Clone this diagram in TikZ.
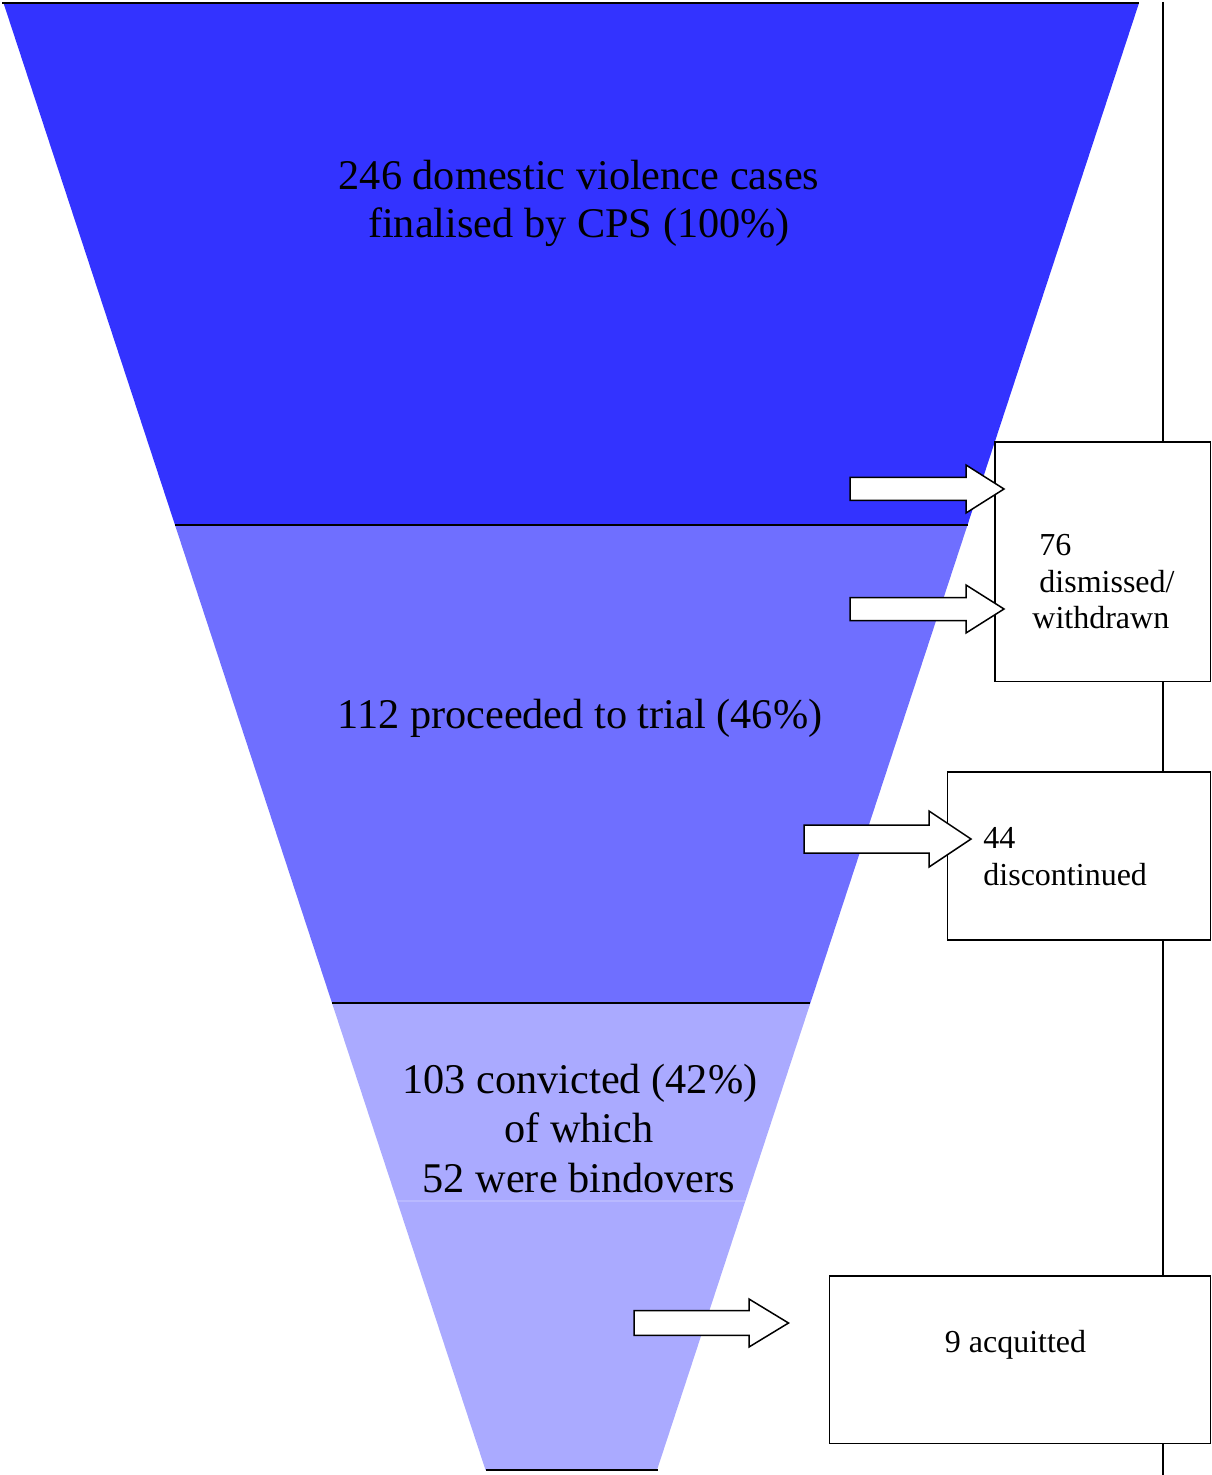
\documentclass[tikz,border=0pt]{standalone}
\usepackage{fontspec}
\setmainfont{Liberation Serif}
\definecolor{bandA}{HTML}{3333FF}
\definecolor{bandB}{HTML}{6F6FFF}
\definecolor{bandC}{HTML}{AAAAFF}
\definecolor{bandCline}{HTML}{B9B9FF}
\tikzset{
  bigtxt/.style={font=\fontsize{21.15}{24}\selectfont, inner sep=0pt, anchor=base},
  smalltxt/.style={font=\fontsize{16}{18.5}\selectfont, inner sep=0pt, anchor=base west},
  outbox/.style={draw=black, line width=0.8pt, fill=white, inner sep=0pt, anchor=north west},
  blockarrowstyle/.style={draw=black, line width=0.75pt, fill=white, line join=miter},
  divider/.style={draw=black, line width=1pt},
  sideline/.style={draw=black, line width=1pt}
}
% tail x, tip x, centre y, shaft half height, head half height, head length
\newcommand\blkarrow[6]{%
  \draw[blockarrowstyle] (#1,#3-#4) -- (#2-#6,#3-#4) -- (#2-#6,#3-#5) -- (#2,#3)
    -- (#2-#6,#3+#5) -- (#2-#6,#3+#4) -- (#1,#3+#4) -- cycle;}
\begin{document}
\begin{tikzpicture}[x=0.5pt, y=-0.5pt]
\useasboundingbox (0,0) rectangle (1211,1475);

% funnel bands
\fill[bandA] (3.5,3) -- (1139,3) -- (967.5,525) -- (175,525) -- cycle;
\fill[bandB] (175,525) -- (967.5,525) -- (810.4,1003) -- (332,1003) -- cycle;
\fill[bandC] (332,1003) -- (810.4,1003) -- (657,1470) -- (485.5,1470) -- cycle;
\draw[bandCline, line width=0.6pt] (397.2,1201) -- (745.3,1201);

% divider lines
\draw[divider] (2,3) -- (1139,3);
\draw[divider] (175,525) -- (967.5,525);
\draw[divider] (332,1003) -- (810.4,1003);
\draw[divider, line width=1.3pt] (485.5,1470) -- (658,1470);

% funnel texts
\node[bigtxt] (t1a) at (579,190) {246 domestic violence cases};
\node[bigtxt] (t1b) at (579,238) {finalised by CPS (100\%)};
\node[bigtxt] (t2) at (580,728) {112 proceeded to trial (46\%)};
\node[bigtxt] (t3a) at (580,1093) {103 convicted (42\%)};
\node[bigtxt] (t3b) at (579,1142) {of which};
\node[bigtxt] (t3c) at (579,1192) {52 were bindovers};

% boxes
\node[outbox, minimum width=107.6pt, minimum height=119.85pt] (b1) at (994.3,441) {};
\node[outbox, minimum width=131.4pt, minimum height=84pt] (b2) at (946.7,771) {};
\node[outbox, minimum width=190.5pt, minimum height=83.85pt] (b3) at (828.5,1275) {};

% side line
\coordinate (stop) at (1163,2);
\coordinate (sbot) at (1163,1475);
\draw[sideline] (stop) -- (stop |- b1.north);
\draw[sideline] (stop |- b1.south) -- (stop |- b2.north);
\draw[sideline] (stop |- b2.south) -- (stop |- b3.north);
\draw[sideline] (stop |- b3.south) -- (sbot);

% box texts
\node[smalltxt] (b1l1) at (1039,555) {76};
\node[smalltxt] (b1l2) at (1039,592) {dismissed/};
\node[smalltxt] (b1l3) at (1032,628) {withdrawn};
\node[smalltxt] (b2l1) at (983,848) {44};
\node[smalltxt] (b2l2) at (983,885) {discontinued};
\node[smalltxt, anchor=base] (b3l1) at (1015.5,1352) {9 acquitted};

% block arrows
\blkarrow{850}{1004}{489}{11.5}{24}{38}
\blkarrow{850}{1004}{609}{11.5}{24}{38}
\blkarrow{804}{971}{839}{14}{28}{42}
\blkarrow{634}{788.5}{1323}{12.3}{24}{39.5}
\end{tikzpicture}
\end{document}
